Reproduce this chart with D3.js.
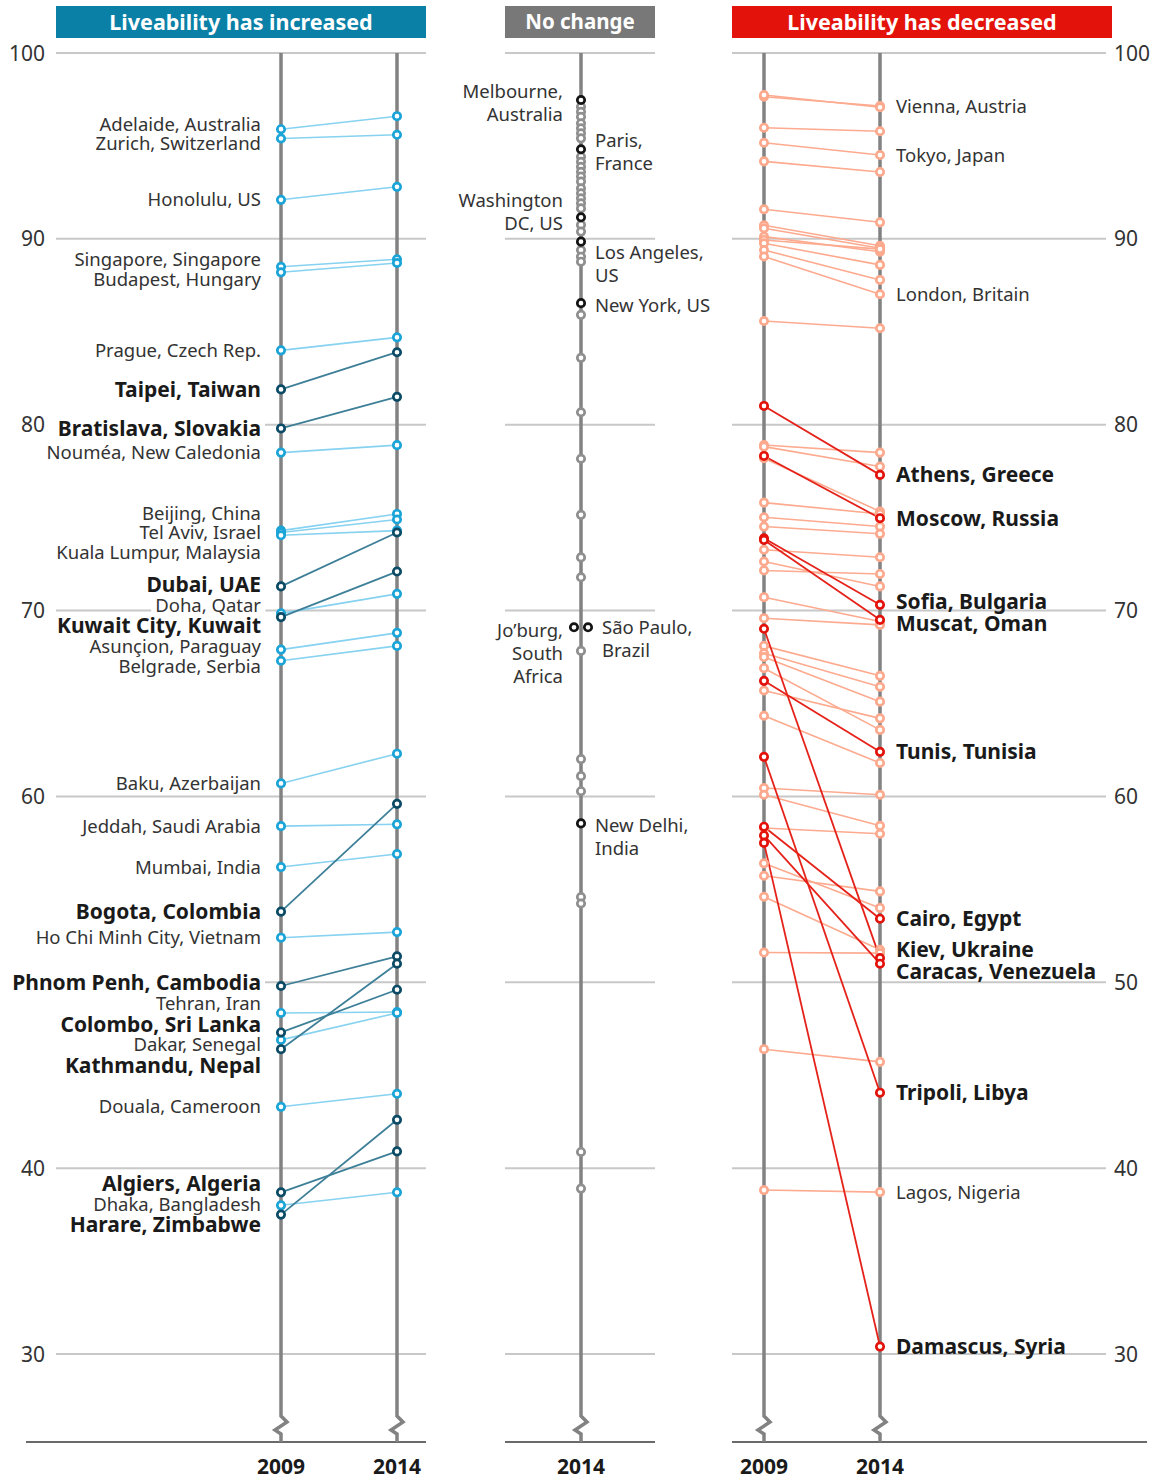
<!DOCTYPE html>
<html><head><meta charset="utf-8">
<script src="https://cdn.jsdelivr.net/npm/d3@7"></script>
<style>
body{margin:0;background:#fff;}
svg text{font-family:"Noto Sans",sans-serif;}
</style></head><body>
<svg id="c" width="1157" height="1479"></svg>
<script>
// ---------------- DATA ----------------
const years = ["2009", "2014"];
const ticks = [30, 40, 50, 60, 70, 80, 90, 100];
const panelTitles = ["Liveability has increased", "No change", "Liveability has decreased"];

// Liveability has increased
const incCities = ["Adelaide, Australia", "Zurich, Switzerland", "Honolulu, US", "Singapore, Singapore",
  "Budapest, Hungary", "Prague, Czech Rep.", "Taipei, Taiwan", "Bratislava, Slovakia", "Nouméa, New Caledonia",
  "Beijing, China", "Tel Aviv, Israel", "Kuala Lumpur, Malaysia", "Dubai, UAE", "Doha, Qatar",
  "Kuwait City, Kuwait", "Asunçion, Paraguay", "Belgrade, Serbia", "Baku, Azerbaijan", "Jeddah, Saudi Arabia",
  "Mumbai, India", "Bogota, Colombia", "Ho Chi Minh City, Vietnam", "Phnom Penh, Cambodia", "Tehran, Iran",
  "Colombo, Sri Lanka", "Dakar, Senegal", "Kathmandu, Nepal", "Douala, Cameroon", "Algiers, Algeria",
  "Dhaka, Bangladesh", "Harare, Zimbabwe"];
const inc2009 = [95.9, 95.4, 92.1, 88.5, 88.2, 84.0, 81.9, 79.8, 78.5, 74.3, 74.2, 74.05, 71.3, 69.85, 69.65,
  67.9, 67.3, 60.7, 58.4, 56.2, 53.8, 52.4, 49.8, 48.35, 47.3, 46.9, 46.4, 43.3, 38.7, 38.0, 37.5];
const inc2014 = [96.6, 95.6, 92.8, 88.9, 88.7, 84.7, 83.9, 81.5, 78.9, 75.2, 74.9, 74.3, 74.2, 70.9, 72.1,
  68.8, 68.1, 62.3, 58.5, 56.9, 59.6, 52.7, 51.4, 48.4, 49.6, 48.35, 51.0, 44.0, 40.9, 38.7, 42.6];
const incHighlight = ["Taipei, Taiwan", "Bratislava, Slovakia", "Dubai, UAE", "Kuwait City, Kuwait",
  "Bogota, Colombia", "Phnom Penh, Cambodia", "Colombo, Sri Lanka", "Kathmandu, Nepal",
  "Algiers, Algeria", "Harare, Zimbabwe"];

// No change (2014 scores)
const midValues = [97.47, 97.11, 96.84, 96.57, 96.22, 95.95, 95.68, 95.41, 94.82, 94.42, 94.15, 93.88, 93.61,
  93.35, 93.08, 92.72, 92.45, 92.18, 91.91, 91.64, 91.16, 90.75, 90.39, 89.85, 89.4, 89.04, 88.77, 86.54,
  85.91, 83.6, 80.67, 78.17, 75.15, 72.86, 71.79, 69.1, 69.1, 67.83, 62.01, 61.09, 60.28, 58.55, 54.59,
  54.24, 40.87, 38.9];
const midNames = ["Melbourne, Australia", "", "", "", "", "", "", "", "Paris, France", "", "", "", "", "", "",
  "", "", "", "", "", "Washington DC, US", "", "", "Los Angeles, US", "", "", "", "New York, US", "", "", "",
  "", "", "", "", "Jo’burg, South Africa", "São Paulo, Brazil", "", "", "", "", "New Delhi, India", "", "",
  "", ""];

// Liveability has decreased
const decCities = ["Vienna, Austria", "", "", "Tokyo, Japan", "", "", "", "", "", "", "", "", "London, Britain",
  "", "Athens, Greece", "", "", "Moscow, Russia", "", "", "", "", "Sofia, Bulgaria", "Muscat, Oman", "", "", "",
  "", "", "Kiev, Ukraine", "", "", "", "", "Tunis, Tunisia", "", "", "Tripoli, Libya", "", "", "Cairo, Egypt", "",
  "Caracas, Venezuela", "Damascus, Syria", "", "", "", "", "", "Lagos, Nigeria"];
const dec2009 = [97.65, 97.74, 95.98, 95.17, 94.17, 91.59, 90.73, 90.57, 90.12, 89.94, 89.76, 89.4, 89.05, 85.58,
  81.01, 78.91, 78.82, 78.32, 78.2, 75.81, 75.02, 74.52, 73.89, 73.8, 73.27, 72.64, 72.16, 70.72, 69.59, 69.02,
  68.1, 67.7, 67.5, 66.9, 66.22, 65.7, 64.34, 62.13, 60.45, 60.09, 58.37, 58.3, 57.9, 57.5, 56.4, 55.73, 54.6,
  51.6, 46.4, 38.82];
const dec2014 = [97.15, 97.08, 95.79, 94.51, 93.6, 90.89, 89.63, 89.49, 89.31, 89.45, 88.6, 87.79, 87.02, 85.19,
  77.3, 78.5, 77.75, 74.97, 75.33, 75.2, 74.52, 74.13, 70.31, 69.5, 72.87, 71.3, 71.97, 69.41, 69.23, 51.3,
  66.49, 65.9, 65.1, 63.58, 62.4, 64.2, 61.8, 44.06, 60.09, 58.42, 53.42, 57.99, 51.0, 30.4, 54.0, 54.89, 51.75,
  51.57, 45.72, 38.71];
const decHighlight = ["Athens, Greece", "Moscow, Russia", "Sofia, Bulgaria", "Muscat, Oman", "Kiev, Ukraine",
  "Tunis, Tunisia", "Tripoli, Libya", "Cairo, Egypt", "Caracas, Venezuela", "Damascus, Syria"];

// ---------------- LAYOUT / STYLE ----------------
const svg = d3.select("#c");
const y = d3.scaleLinear().domain([30, 100]).range([1354, 53]);
const xInc = d3.scalePoint().domain(years).range([281, 397]);
const xDec = d3.scalePoint().domain(years).range([764, 880]);
const xMid = 581;
const baseY = 1442;

const col = {
  incLightDot: "#1ba4d7", incLightLine: "#86d2f0", incDarkDot: "#0b4b66", incDarkLine: "#3e7f98",
  decLightDot: "#fca98d", decLightLine: "#fdaa8f", decDarkDot: "#e3120b", decDarkLine: "#e5221a",
  midDot: "#8f8f8f", midDark: "#141414", axis: "#828282", grid: "#c8c8c8", text: "#333", bold: "#1a1a1a"
};
const FS = 18.5, FSB = 21;

const panels = [
  {x1: 56, x2: 426, b1: 26, b2: 426, title: panelTitles[0], fill: "#0b80a7", fs: 21.5},
  {x1: 505, x2: 655, b1: 505, b2: 655, title: panelTitles[1], fill: "#787878", fs: 20.5},
  {x1: 732, x2: 1112, b1: 732, b2: 1147, title: panelTitles[2], fill: "#e3120b", fs: 21.5}
];
const gridExt = [[56, 426], [505, 655], [732, 1106]];

// titles
panels.forEach(p => {
  svg.append("rect").attr("x", p.x1).attr("y", 6).attr("width", p.x2 - p.x1).attr("height", 32).attr("fill", p.fill);
  svg.append("text").attr("x", (p.x1 + p.x2) / 2).attr("y", 22).attr("dy", "0.36em")
    .attr("text-anchor", "middle").attr("fill", "#fff").attr("font-weight", 700).attr("font-size", p.fs)
    .text(p.title);
});

// gridlines
const gGrid = svg.append("g");
gridExt.forEach(([a, b]) => {
  gGrid.selectAll(null).data(ticks).join("line")
    .attr("x1", a).attr("x2", b).attr("y1", d => y(d)).attr("y2", d => y(d))
    .attr("stroke", col.grid).attr("stroke-width", 2);
});
// baselines
panels.forEach(p => svg.append("line").attr("x1", p.b1).attr("x2", p.b2).attr("y1", baseY).attr("y2", baseY)
  .attr("stroke", "#6a6a6a").attr("stroke-width", 2));

// tick labels
const leftTicks = svg.append("g");
leftTicks.selectAll("text").data(ticks).join("text")
  .attr("x", 45).attr("y", d => y(d)).attr("dy", "0.36em").attr("text-anchor", "end")
  .attr("font-size", 21).attr("fill", col.text).text(d => d);
svg.append("g").selectAll("text").data(ticks).join("text")
  .attr("x", 1114).attr("y", d => y(d)).attr("dy", "0.36em").attr("text-anchor", "start")
  .attr("font-size", 21).attr("fill", col.text).text(d => d);

// label helper with white background (masks gridlines and covered tick numbers)
const gLab = svg.append("g");
const masks = [];
function label(x, cy, txt, bold, anchor, mask) {
  const fs = bold ? FSB : FS;
  const g = gLab.append("g");
  const t = g.append("text").attr("x", x).attr("y", cy).attr("dy", "0.36em").attr("text-anchor", anchor)
    .attr("font-size", fs).attr("font-weight", bold ? 700 : 400).attr("fill", bold ? col.bold : col.text)
    .text(txt);
  if (mask) {
    const bb = t.node().getBBox();
    const r = {x: bb.x - 4, w: bb.width + 8, y: cy - fs * 0.45, h: fs * 0.9};
    masks.push(r);
    g.insert("rect", "text").attr("x", r.x).attr("width", r.w).attr("y", r.y).attr("height", r.h).attr("fill", "#fff");
  }
}
function relax(items) {
  items.sort((a, b) => a.y - b.y);
  const gapOf = (a, b) => 0.5 * ((a.d.hi ? FSB : FS) + (b.d.hi ? FSB : FS)) * 1.05;
  for (let k = 0; k < 500; k++) {
    let moved = false;
    for (let i = 0; i < items.length - 1; i++) {
      const a = items[i], b = items[i + 1], d = b.y - a.y, gap = gapOf(a, b);
      if (d < gap - 0.01) { const s = (gap - d) / 2; a.y -= s; b.y += s; moved = true; }
    }
    if (!moved) break;
  }
  return items;
}

// ---- data objects
const inc = incCities.map((n, i) => ({name: n, a: inc2009[i], b: inc2014[i], hi: incHighlight.includes(n)}));
const dec = decCities.map((n, i) => ({name: n, a: dec2009[i], b: dec2014[i], hi: decHighlight.includes(n)}));
const mid = midValues.map((v, i) => ({name: midNames[i], v: v}));

// left labels
relax(inc.map(d => ({d, y: y(d.a)}))).forEach(o => label(261, o.y, o.d.name, o.d.hi, "end", true));
// right labels
relax(dec.filter(d => d.name).map(d => ({d, y: y(d.b)})))
  .forEach(o => label(896, o.y, o.d.name, o.d.hi, "start", false));

// tick numbers hidden behind a city label (as in the original) are removed
leftTicks.selectAll("text").each(function () {
  const b = this.getBBox();
  const cy = b.y + b.height / 2;
  if (masks.some(r => b.x < r.x + r.w && b.x + b.width > r.x && cy > r.y && cy < r.y + r.h)) d3.select(this).remove();
});

// axes (vertical with break)
function axisPath(x) {
  return `M${x},${y(100)} V1416 L${x + 6},1422 L${x - 6},1430 L${x},1434 V${baseY}`;
}
[xInc("2009"), xInc("2014"), xMid, xDec("2009"), xDec("2014")].forEach(x =>
  svg.append("path").attr("d", axisPath(x)).attr("fill", "none").attr("stroke", col.axis).attr("stroke-width", 3.5));

// year labels
[[xInc("2009"), "2009"], [xInc("2014"), "2014"], [xMid, "2014"], [xDec("2009"), "2009"], [xDec("2014"), "2014"]]
  .forEach(([x, t]) => svg.append("text").attr("x", x).attr("y", 1466).attr("dy", "0.36em")
    .attr("text-anchor", "middle").attr("font-size", 21).attr("font-weight", 700).attr("fill", col.bold).text(t));

// slope lines + dots
function slopes(data, x, light, dark) {
  const order = data.filter(d => !d.hi).concat(data.filter(d => d.hi));
  const g = svg.append("g");
  g.selectAll("line").data(order).join("line")
    .attr("x1", x("2009")).attr("x2", x("2014")).attr("y1", d => y(d.a)).attr("y2", d => y(d.b))
    .attr("stroke", d => d.hi ? dark.line : light.line).attr("stroke-width", d => d.hi ? 1.8 : 1.6);
  const pts = [];
  order.forEach(d => { pts.push({d, x: x("2009"), v: d.a}); pts.push({d, x: x("2014"), v: d.b}); });
  g.selectAll("circle").data(pts).join("circle")
    .attr("cx", p => p.x).attr("cy", p => y(p.v)).attr("r", 3.7)
    .attr("fill", "#fff").attr("stroke", p => p.d.hi ? dark.dot : light.dot).attr("stroke-width", 2.7);
}
slopes(inc, xInc, {line: col.incLightLine, dot: col.incLightDot}, {line: col.incDarkLine, dot: col.incDarkDot});
slopes(dec, xDec, {line: col.decLightLine, dot: col.decLightDot}, {line: col.decDarkLine, dot: col.decDarkDot});

// middle column
const named = mid.filter(d => d.name);
named.forEach(d => {
  const twins = named.filter(e => e.v === d.v);
  d.x = twins.length > 1 ? xMid + (twins.indexOf(d) === 0 ? -7 : 7) : xMid;
});
const gm = svg.append("g");
gm.selectAll("circle.g").data(mid.filter(d => !d.name)).join("circle")
  .attr("cx", xMid).attr("cy", d => y(d.v)).attr("r", 3.7).attr("fill", "#fff")
  .attr("stroke", col.midDot).attr("stroke-width", 2.7);
gm.selectAll("circle.k").data(named).join("circle")
  .attr("cx", d => d.x).attr("cy", d => y(d.v)).attr("r", 3.7).attr("fill", "#fff")
  .attr("stroke", col.midDark).attr("stroke-width", 2.7);

const midLayout = {
  "Melbourne, Australia": {side: "left", lines: ["Melbourne,", "Australia"], dy: -9},
  "Paris, France": {side: "right", lines: ["Paris,", "France"], dy: -9},
  "Washington DC, US": {side: "left", lines: ["Washington", "DC, US"], dy: -17},
  "Los Angeles, US": {side: "right", lines: ["Los Angeles,", "US"], dy: 11},
  "New York, US": {side: "right", lines: ["New York, US"], dy: 2},
  "Jo’burg, South Africa": {side: "left", lines: ["Jo’burg,", "South", "Africa"], dy: 3},
  "São Paulo, Brazil": {side: "right", lines: ["São Paulo,", "Brazil"], dy: 0},
  "New Delhi, India": {side: "right", lines: ["New Delhi,", "India"], dy: 2}
};
named.forEach(d => {
  const L = midLayout[d.name];
  const x = L.side === "left" ? xMid - 18 : Math.max(xMid, d.x) + 14;
  L.lines.forEach((ln, i) => label(x, y(d.v) + L.dy + i * 23, ln, false, L.side === "left" ? "end" : "start", false));
});
</script>
</body></html>
